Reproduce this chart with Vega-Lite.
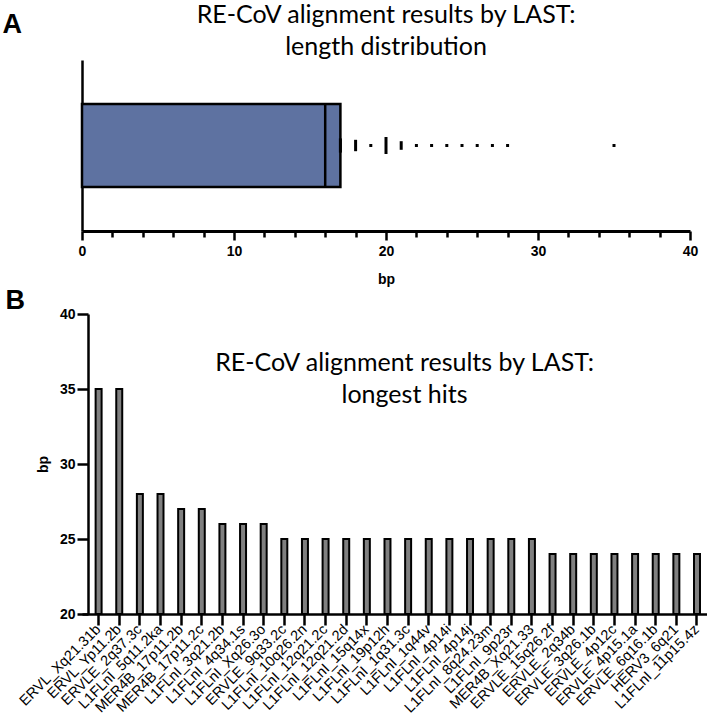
{
  "$schema": "https://vega.github.io/schema/vega-lite/v6.json",
  "padding": {"left": 2, "top": 3, "right": 0, "bottom": 0},
  "background": "white",
  "config": {"view": {"stroke": null}, "font": "Liberation Sans"},
  "spacing": 0,
  "vconcat": [
    {
      "width": 608,
      "height": 171,
      "title": {
        "text": ["RE-CoV alignment results by LAST:", "length distribution"],
        "font": "Lato", "fontSize": 25, "fontWeight": "normal", "lineHeight": 32,
        "anchor": "middle", "frame": "group", "offset": 4, "dy": 54, "color": "black"
      },
      "layer": [
        {
          "data": {"values": [{"group": "LAST hits", "q1": 0, "median": 16, "q3": 17}]},
          "mark": {"type": "bar", "fill": "#5e72a1", "stroke": "black", "strokeWidth": 2.5},
          "encoding": {
            "y": {
              "field": "group", "type": "nominal",
              "scale": {"paddingInner": 0, "paddingOuter": 0.53},
              "axis": {
                "title": "A", "labels": false, "ticks": false,
                "domainColor": "black", "domainWidth": 2.5,
                "titleAngle": 0, "titleX": -80, "titleY": -28,
                "titleAlign": "left", "titleBaseline": "alphabetic",
                "titleFont": "Liberation Sans", "titleFontSize": 27,
                "titleFontWeight": "bold", "titleColor": "black"
              }
            },
            "x": {
              "field": "q1", "type": "quantitative",
              "scale": {"domain": [0, 40], "nice": false},
              "axis": {
                "title": "bp", "grid": false,
                "values": [0, 2, 4, 6, 8, 10, 12, 14, 16, 18, 20, 22, 24, 26, 28, 30, 32, 34, 36, 38, 40],
                "labelExpr": "datum.value % 10 === 0 ? datum.label : ''",
                "tickSize": {"condition": {"test": "datum.value % 10 === 0", "value": 9}, "value": 6},
                "tickWidth": 2.5, "tickColor": "black",
                "domainColor": "black", "domainWidth": 3,
                "labelFont": "Liberation Sans", "labelFontSize": 14, "labelFontWeight": "bold",
                "labelColor": "black", "labelPadding": 4, "labelFlush": false, "labelOverlap": false,
                "titleFont": "Liberation Sans", "titleFontSize": 14, "titleFontWeight": "bold",
                "titleColor": "black", "titlePadding": 14
              }
            },
            "x2": {"field": "q3"}
          }
        },
        {
          "data": {"values": [{"group": "LAST hits", "q1": 0, "median": 16, "q3": 17}]},
          "mark": {"type": "tick", "color": "black", "thickness": 2.5, "size": 83, "opacity": 1},
          "encoding": {
            "x": {
              "field": "median", "type": "quantitative",
              "axis": {
                "title": "bp", "grid": false,
                "values": [0, 2, 4, 6, 8, 10, 12, 14, 16, 18, 20, 22, 24, 26, 28, 30, 32, 34, 36, 38, 40],
                "labelExpr": "datum.value % 10 === 0 ? datum.label : ''",
                "tickSize": {"condition": {"test": "datum.value % 10 === 0", "value": 9}, "value": 6},
                "tickWidth": 2.5, "tickColor": "black",
                "domainColor": "black", "domainWidth": 3,
                "labelFont": "Liberation Sans", "labelFontSize": 14, "labelFontWeight": "bold",
                "labelColor": "black", "labelPadding": 4, "labelFlush": false, "labelOverlap": false,
                "titleFont": "Liberation Sans", "titleFontSize": 14, "titleFontWeight": "bold",
                "titleColor": "black", "titlePadding": 14
              }
            },
            "y": {"field": "group", "type": "nominal"}
          }
        },
        {
          "data": {"values": [
            {"group": "LAST hits", "bp": 17, "n": 5},
            {"group": "LAST hits", "bp": 18, "n": 4},
            {"group": "LAST hits", "bp": 19, "n": 1},
            {"group": "LAST hits", "bp": 20, "n": 6},
            {"group": "LAST hits", "bp": 21, "n": 3},
            {"group": "LAST hits", "bp": 22, "n": 1},
            {"group": "LAST hits", "bp": 23, "n": 1},
            {"group": "LAST hits", "bp": 24, "n": 1},
            {"group": "LAST hits", "bp": 25, "n": 1},
            {"group": "LAST hits", "bp": 26, "n": 1},
            {"group": "LAST hits", "bp": 27, "n": 1},
            {"group": "LAST hits", "bp": 28, "n": 1},
            {"group": "LAST hits", "bp": 35, "n": 1}
          ]},
          "mark": {"type": "tick", "color": "black", "thickness": 3, "opacity": 1},
          "encoding": {
            "x": {
              "field": "bp", "type": "quantitative",
              "axis": {
                "title": "bp", "grid": false,
                "values": [0, 2, 4, 6, 8, 10, 12, 14, 16, 18, 20, 22, 24, 26, 28, 30, 32, 34, 36, 38, 40],
                "labelExpr": "datum.value % 10 === 0 ? datum.label : ''",
                "tickSize": {"condition": {"test": "datum.value % 10 === 0", "value": 9}, "value": 6},
                "tickWidth": 2.5, "tickColor": "black",
                "domainColor": "black", "domainWidth": 3,
                "labelFont": "Liberation Sans", "labelFontSize": 14, "labelFontWeight": "bold",
                "labelColor": "black", "labelPadding": 4, "labelFlush": false, "labelOverlap": false,
                "titleFont": "Liberation Sans", "titleFontSize": 14, "titleFontWeight": "bold",
                "titleColor": "black", "titlePadding": 14
              }
            },
            "y": {"field": "group", "type": "nominal"},
            "size": {"field": "n", "type": "quantitative", "scale": {"domain": [1, 6], "range": [3, 17]}, "legend": null}
          }
        }
      ]
    },
    {
      "width": 625,
      "height": 300,
      "title": {
        "text": ["RE-CoV alignment results by LAST:", "longest hits"],
        "font": "Lato", "fontSize": 25, "fontWeight": "normal", "lineHeight": 32,
        "anchor": "middle", "frame": "group", "offset": 0, "baseline": "top",
        "dy": 122, "dx": 10, "color": "black"
      },
      "data": {"values": [
        {"name": "ERVL_Xq21.31b", "bp": 35},
        {"name": "ERVL_Yp11.2b", "bp": 35},
        {"name": "ERVLE_2q37.3c", "bp": 28},
        {"name": "L1FLnI_5q11.2ka", "bp": 28},
        {"name": "MER4B_17p11.2b", "bp": 27},
        {"name": "MER4B_17p11.2c", "bp": 27},
        {"name": "L1FLnI_3q21.2b", "bp": 26},
        {"name": "L1FLnI_4q34.1s", "bp": 26},
        {"name": "L1FLnI_Xq26.3o", "bp": 26},
        {"name": "ERVLE_9q33.2c", "bp": 25},
        {"name": "L1FLnI_10q26.2n", "bp": 25},
        {"name": "L1FLnI_12q21.2c", "bp": 25},
        {"name": "L1FLnI_12q21.2d", "bp": 25},
        {"name": "L1FLnI_15q14x", "bp": 25},
        {"name": "L1FLnI_19p12h", "bp": 25},
        {"name": "L1FLnI_1q31.3c", "bp": 25},
        {"name": "L1FLnI_1q44v", "bp": 25},
        {"name": "L1FLnI_4p14i", "bp": 25},
        {"name": "L1FLnI_4p14j", "bp": 25},
        {"name": "L1FLnI_8q24.23m", "bp": 25},
        {"name": "L1FLnI_9p23r", "bp": 25},
        {"name": "MER4B_Xq21.33", "bp": 25},
        {"name": "ERVLE_15q26.2f", "bp": 24},
        {"name": "ERVLE_2q34b", "bp": 24},
        {"name": "ERVLE_3q26.1b", "bp": 24},
        {"name": "ERVLE_4p12c", "bp": 24},
        {"name": "ERVLE_4p15.1a", "bp": 24},
        {"name": "ERVLE_6q16.1b", "bp": 24},
        {"name": "HERV3_6q21", "bp": 24},
        {"name": "L1FLnI_11p15.4z", "bp": 24}
      ]},
      "mark": {"type": "bar", "fill": "#808080", "stroke": "black", "strokeWidth": 2},
      "encoding": {
        "x": {
          "field": "name", "type": "nominal", "sort": null,
          "scale": {"paddingInner": 0.71, "paddingOuter": 0.5, "align": 0.66},
          "axis": {
            "title": "B", "titleX": -77, "titleY": -306, "titleAlign": "left",
            "titleBaseline": "alphabetic", "titleAngle": 0,
            "titleFont": "Liberation Sans", "titleFontSize": 27, "titleFontWeight": "bold",
            "titleColor": "black",
            "labelAngle": -45, "labelAlign": "right", "labelBaseline": "middle",
            "labelFont": "Liberation Sans", "labelFontSize": 14.5, "labelColor": "black",
            "labelPadding": 2, "labelOverlap": false,
            "tickSize": 11, "tickWidth": 2.5, "tickColor": "black",
            "domainColor": "black", "domainWidth": 2.5
          }
        },
        "y": {
          "field": "bp", "type": "quantitative",
          "scale": {"domain": [20, 40], "nice": false, "zero": false},
          "axis": {
            "title": "bp", "values": [20, 25, 30, 35, 40], "offset": -6, "grid": false,
            "labelFont": "Liberation Sans", "labelFontSize": 14, "labelFontWeight": "bold",
            "labelColor": "black", "labelPadding": 2,
            "tickSize": 11, "tickWidth": 2.5, "tickColor": "black",
            "domainColor": "black", "domainWidth": 2.5,
            "titleFont": "Liberation Sans", "titleFontSize": 14, "titleFontWeight": "bold",
            "titleColor": "black", "titlePadding": 9
          }
        },
        "y2": {"datum": 20}
      }
    }
  ]
}
